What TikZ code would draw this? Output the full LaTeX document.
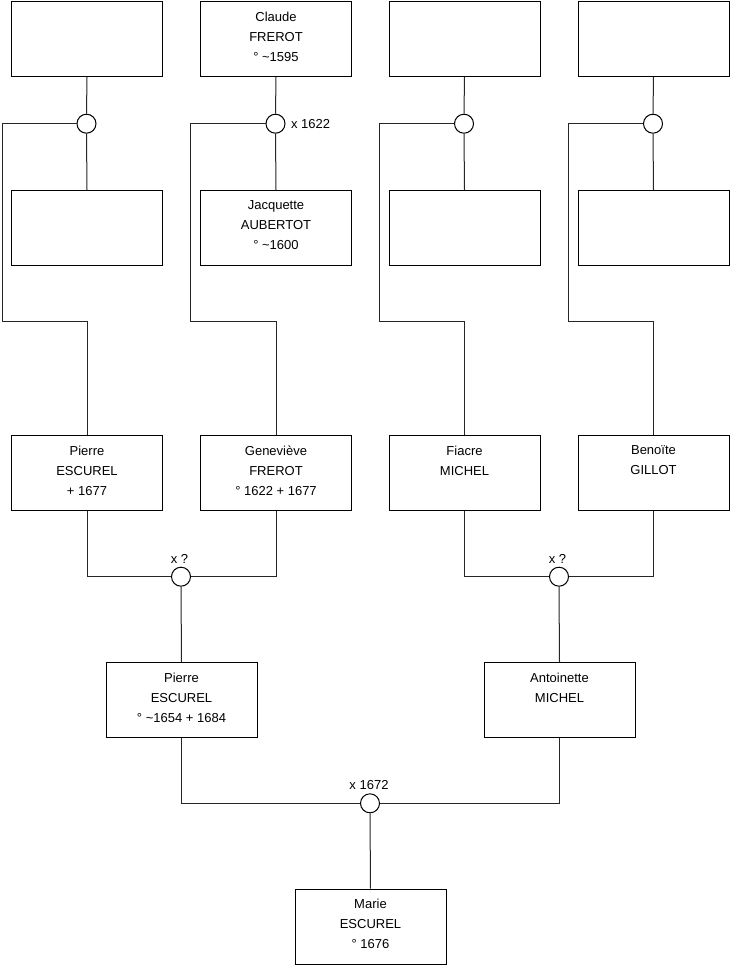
\documentclass[tikz,border=0pt]{standalone}
\usepackage{fontspec}
\setmainfont{Liberation Sans}
\begin{document}
\begin{tikzpicture}[x=1pt,y=-1pt,line width=1pt,
  person/.style={draw,minimum width=151pt,minimum height=75pt,inner sep=0pt,anchor=north west},
  ptext/.style={anchor=north,align=center,inner sep=0pt,font=\fontsize{13}{20}\selectfont,yshift=-10.5pt},
  union/.style={circle,draw,fill=white,minimum size=19pt,inner sep=0pt},
  lab/.style={font=\fontsize{13}{15}\selectfont,inner sep=0pt},
  link/.style={draw=black!85}]
\useasboundingbox[fill=white] (0,0) rectangle (740,975);
% row 1
\node[person] (A1) at (11,1) {};
\node[person] (A2) at (200,1) {};
\node[person] (A3) at (388.5,1) {};
\node[person] (A4) at (577.5,1) {};
\node[ptext] (tA2) at (A2.north) {Claude\\FREROT\\° \textasciitilde1595};
% row 2
\node[person] (B1) at (11,190) {};
\node[person] (B2) at (200,190) {};
\node[person] (B3) at (388.5,190) {};
\node[person] (B4) at (577.5,190) {};
\node[ptext] (tB2) at (B2.north) {Jacquette\\AUBERTOT\\° \textasciitilde1600};
% row 3
\node[person] (C1) at (11,435) {};
\node[person] (C2) at (200,435) {};
\node[person] (C3) at (388.5,435) {};
\node[person] (C4) at (577.5,435) {};
\node[ptext] (tC1) at (C1.north) {Pierre\\ESCUREL\\+ 1677};
\node[ptext] (tC2) at (C2.north) {Geneviève\\FREROT\\° 1622 + 1677};
\node[ptext] (tC3) at (C3.north) {Fiacre\\MICHEL};
\node[ptext] (tC4) at (C4.north) {Benoïte\\GILLOT};
% row 4
\node[person] (D1) at (105.5,662) {};
\node[person] (D2) at (483.5,662) {};
\node[ptext] (tD1) at (D1.north) {Pierre\\ESCUREL\\° \textasciitilde1654 + 1684};
\node[ptext] (tD2) at (D2.north) {Antoinette\\MICHEL};
% row 5
\node[person] (E) at (294.5,888.5) {};
\node[ptext] (tE) at (E.north) {Marie\\ESCUREL\\° 1676};
% unions
\node[union] (c1) at (86.5,123.7) {};
\node[union] (c2) at (275.5,123.7) {};
\node[union] (c3) at (464,123.7) {};
\node[union] (c4) at (653,123.7) {};
\node[union] (m1) at (181,576.7) {};
\node[union] (m2) at (559,576.7) {};
\node[union] (m0) at (370,803.3) {};
% labels
\node[lab,anchor=west] (l2) at ([xshift=5pt]c2.east) {x 1622};
\node[lab,anchor=south] (lm1) at ([xshift=-1.5pt,yshift=3pt]m1.north) {x ?};
\node[lab,anchor=south] (lm2) at ([xshift=-1.5pt,yshift=3pt]m2.north) {x ?};
\node[lab,anchor=south] (lm0) at ([xshift=-1pt,yshift=3pt]m0.north) {x 1672};
% bend points
\coordinate (k1) at (2,321.7);
\coordinate (k2) at (190.5,321.7);
\coordinate (k3) at (379,321.7);
\coordinate (k4) at (568.5,321.7);
% connectors
\draw[link] (A1.south) -- (c1.north); \draw[link] (c1.south) -- (B1.north);
\draw[link] (A2.south) -- (c2.north); \draw[link] (c2.south) -- (B2.north);
\draw[link] (A3.south) -- (c3.north); \draw[link] (c3.south) -- (B3.north);
\draw[link] (A4.south) -- (c4.north); \draw[link] (c4.south) -- (B4.north);
\draw[link] (c1.west) -| (k1) -| (C1.north);
\draw[link] (c2.west) -| (k2) -| (C2.north);
\draw[link] (c3.west) -| (k3) -| (C3.north);
\draw[link] (c4.west) -| (k4) -| (C4.north);
\draw[link] (C1.south) |- (m1.west);
\draw[link] (C2.south) |- (m1.east);
\draw[link] (C3.south) |- (m2.west);
\draw[link] (C4.south) |- (m2.east);
\draw[link] (m1.south) -- (D1.north);
\draw[link] (m2.south) -- (D2.north);
\draw[link] (D1.south) |- (m0.west);
\draw[link] (D2.south) |- (m0.east);
\draw[link] (m0.south) -- (E.north);
\end{tikzpicture}
\end{document}
